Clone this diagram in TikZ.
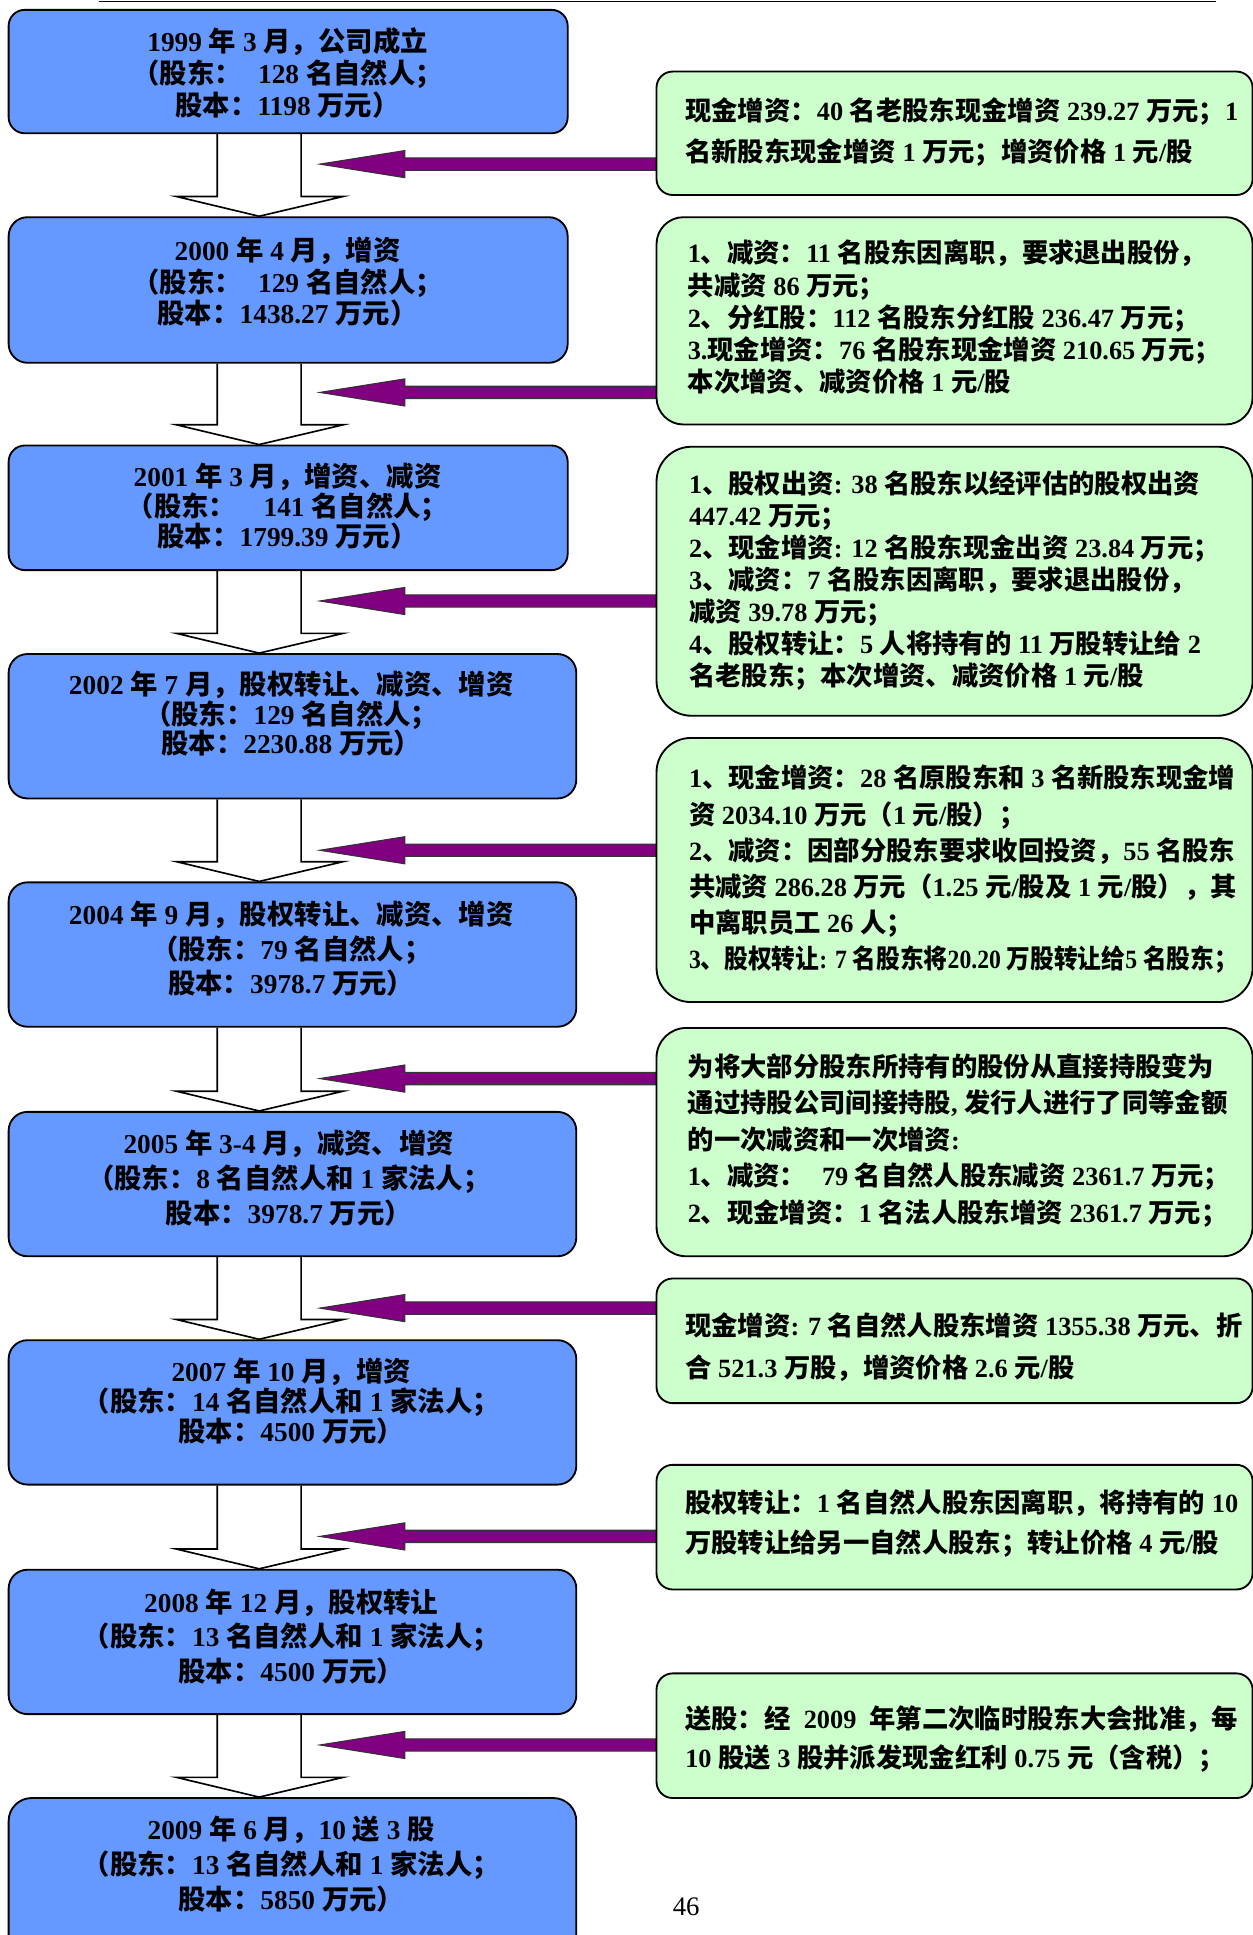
\documentclass[tikz,border=0pt]{standalone}
\usepackage{fontspec}
\usepackage{graphicx}
\setmainfont{Liberation Serif}
\newfontfamily\cjkfont{Noto Sans CJK SC}
\usetikzlibrary{calc}
\pgfdeclarelayer{bg}
\pgfsetlayers{bg,main}
\definecolor{boxblue}{RGB}{102,153,255}
\definecolor{boxgreen}{RGB}{204,255,204}
\definecolor{arrowpurple}{RGB}{128,0,128}
% automatic switch to the CJK font for CJK characters
\newcount\cjkcnt
\newXeTeXintercharclass\cjkcls
\def\setcjkrange#1#2{\cjkcnt=#1\relax\loop\XeTeXcharclass\cjkcnt=\cjkcls\relax\advance\cjkcnt by 1\relax\ifnum\cjkcnt<#2\relax\repeat}
\setcjkrange{"3000}{"3040}
\setcjkrange{"4E00}{"A000}
\setcjkrange{"FF00}{"FFF0}
\XeTeXinterchartoks 0 \cjkcls = {\begingroup\cjkfont}
\XeTeXinterchartoks 4095 \cjkcls = {\begingroup\cjkfont}
\XeTeXinterchartoks \cjkcls 0 = {\endgroup}
\XeTeXinterchartoks \cjkcls 4095 = {\endgroup}
\XeTeXinterchartokenstate=1
% rounded box node: name, style, x1, y1, x2, y2 (y downward)
\newcommand\mkbox[6]{%
  \pgfmathsetmacro\mkW{(#5-#3)*0.6}%
  \pgfmathsetmacro\mkH{(#6-#4)*0.6}%
  \pgfmathsetmacro\mkR{\mkH*0.13}%
  \pgfmathsetmacro\mkX{(#3+#5)/2}%
  \pgfmathsetmacro\mkY{-(#4+#6)/2}%
  \node[#2, minimum width=\mkW pt, minimum height=\mkH pt, rounded corners=\mkR pt] (#1) at (\mkX,\mkY) {};%
}
% hollow block arrow from upper box to lower box
\newcommand\harr[2]{%
  \draw[hollow] (176,0 |- #1.south) -- ($(176,0 |- #2.north)+(0,16)$) -- ($(143,0 |- #2.north)+(0,16)$)
    -- (210,0 |- #2.north) -- ($(278,0 |- #2.north)+(0,16)$) -- ($(244,0 |- #2.north)+(0,16)$) -- (244,0 |- #1.south);%
}
% purple arrow from a green box: node, y, tip name
\newcommand\parr[3]{%
  \coordinate (#3) at (259,-#2);%
  \draw[parrow] ($(#1.west |- #3)+(2,5)$) -- (328,-#2+5) -- (328,-#2+11) -- (#3)
    -- (328,-#2-11) -- (328,-#2-5) -- ($(#1.west |- #3)+(2,-5)$);%
}
\begin{document}
\begin{tikzpicture}[x=0.6pt,y=0.6pt,
  bbox/.style={draw=black, line width=0.9pt, fill=boxblue, inner sep=0pt},
  gbox/.style={draw=black, line width=0.9pt, fill=boxgreen, inner sep=0pt},
  btxt/.style={inner sep=0pt, align=center, font=\bfseries\fontsize{13.3}{#1}\selectfont},
  btxt/.default=15,
  gtxt/.style={inner sep=0pt, align=left, anchor=west, font=\bfseries\fontsize{12.8}{#1}\selectfont},
  gtxt/.default=15.5,
  hollow/.style={draw=black, line width=0.8pt, fill=white, line join=miter},
  parrow/.style={draw=black!80, line width=0.5pt, fill=arrowpurple},
  pagenum/.style={inner sep=0pt, font=\fontsize{13}{15}\selectfont}]
\useasboundingbox (0,0) rectangle (1015,-1568);
\coordinate (rl) at (80,-1);
\coordinate (rr) at (985,-1);
\draw[line width=0.7pt] (rl) -- (rr);

% left (blue) boxes
\mkbox{b1}{bbox}{7}{8}{460}{108}
\mkbox{b2}{bbox}{7}{176}{460}{294}
\mkbox{b3}{bbox}{7}{361}{460}{462}
\mkbox{b4}{bbox}{7}{530}{467}{647}
\mkbox{b5}{bbox}{7}{715}{467}{832}
\mkbox{b6}{bbox}{7}{901}{467}{1018}
\mkbox{b7}{bbox}{7}{1086}{467}{1203}
\mkbox{b8}{bbox}{7}{1272}{467}{1389}
\mkbox{b9}{bbox}{7}{1457}{467}{1600}

\node[btxt=15.6] (t1) at (233,-59) {1999 年 3 月，公司成立\\（股东：\hspace{0.6em}128 名自然人；\\股本：1198 万元）};
\node[btxt=15.3] (t2) at (233,-228.5) {2000 年 4 月，增资\\（股东：\hspace{0.6em}129 名自然人；\\股本：1438.27 万元）};
\node[btxt=14.6] (t3) at (233,-410) {2001 年 3 月，增资、减资\\（股东：\hspace{1em}141 名自然人；\\股本：1799.39 万元）};
\node[btxt=14.3] (t4) at (236,-578.5) {2002 年 7 月，股权转让、减资、增资\\（股东：129 名自然人；\\股本：2230.88 万元）};
\node[btxt=16.8] (t5) at (236,-769) {2004 年 9 月，股权转让、减资、增资\\（股东：79 名自然人；\\股本：3978.7 万元）};
\node[btxt=17.1] (t6) at (234,-954.5) {2005 年 3-4 月，减资、增资\\（股东：8 名自然人和 1 家法人；\\股本：3978.7 万元）};
\node[btxt=14.7] (t7) at (236,-1135.5) {2007 年 10 月，增资\\（股东：14 名自然人和 1 家法人；\\股本：4500 万元）};
\node[btxt=16.8] (t8) at (236,-1326) {2008 年 12 月，股权转让\\（股东：13 名自然人和 1 家法人；\\股本：4500 万元）};
\node[btxt=17.1] (t9) at (236,-1510.5) {2009 年 6 月，10 送 3 股\\（股东：13 名自然人和 1 家法人；\\股本：5850 万元）};

% right (green) boxes
\mkbox{g1}{gbox}{532}{58}{1015}{158}
\mkbox{g2}{gbox}{532}{176}{1015}{344}
\mkbox{g3}{gbox}{532}{362}{1015}{580}
\mkbox{g4}{gbox}{532}{598}{1015}{812}
\mkbox{g5}{gbox}{532}{833}{1015}{1018}
\mkbox{g6}{gbox}{532}{1036}{1015}{1137}
\mkbox{g7}{gbox}{532}{1187}{1015}{1288}
\mkbox{g8}{gbox}{532}{1356}{1015}{1457}

\node[gtxt=20.4] (n1) at (555,-107) {现金增资：40 名老股东现金增资 239.27 万元；1\\名新股东现金增资 1 万元；增资价格 1 元/股};
\node[gtxt=15.6] (n2) at (557,-257) {1、减资：11 名股东因离职，要求退出股份，\\共减资 86 万元；\\2、分红股：112 名股东分红股 236.47 万元；\\3.现金增资：76 名股东现金增资 210.65 万元；\\本次增资、减资价格 1 元/股};
\node[gtxt=15.5] (n3) at (558,-470.5) {1、股权出资: 38 名股东以经评估的股权出资\\447.42 万元；\\2、现金增资: 12 名股东现金出资 23.84 万元；\\3、减资：7 名股东因离职，要求退出股份，\\减资 39.78 万元；\\4、股权转让：5 人将持有的 11 万股转让给 2\\名老股东；本次增资、减资价格 1 元/股};
\node[gtxt=17.6] (n4) at (558,-704.5) {1、现金增资：28 名原股东和 3 名新股东现金增\\资 2034.10 万元（1 元/股）；\\2、减资：因部分股东要求收回投资，55 名股东\\共减资 286.28 万元（1.25 元/股及 1 元/股），其\\中离职员工 26 人；\\\scalebox{0.9}[1]{3、股权转让: 7 名股东将20.20 万股转让给5 名股东；}};
\node[gtxt=17.7] (n5) at (557,-924) {为将大部分股东所持有的股份从直接持股变为\\通过持股公司间接持股, 发行人进行了同等金额\\的一次减资和一次增资:\\1、减资：\hspace{0.6em}79 名自然人股东减资 2361.7 万元；\\2、现金增资：1 名法人股东增资 2361.7 万元；};
\node[gtxt=20.4] (n6) at (555,-1092) {现金增资: 7 名自然人股东增资 1355.38 万元、折\\合 521.3 万股，增资价格 2.6 元/股};
\node[gtxt=19.8] (n7) at (555,-1234.5) {股权转让：1 名自然人股东因离职，将持有的 10\\万股转让给另一自然人股东；转让价格 4 元/股};
\node[gtxt=19.2] (n8) at (555,-1409) {送股：经\hspace{0.5em}2009\hspace{0.5em}年第二次临时股东大会批准，每\\10 股送 3 股并派发现金红利 0.75 元（含税）；};

\node[pagenum] (pg) at (556,-1545) {46};

\begin{pgfonlayer}{bg}
\harr{b1}{b2}
\harr{b2}{b3}
\harr{b3}{b4}
\harr{b4}{b5}
\harr{b5}{b6}
\harr{b6}{b7}
\harr{b7}{b8}
\harr{b8}{b9}
\parr{g1}{133}{p1}
\parr{g2}{318}{p2}
\parr{g3}{487}{p3}
\parr{g4}{689}{p4}
\parr{g5}{874}{p5}
\parr{g6}{1060}{p6}
\parr{g7}{1245}{p7}
\parr{g8}{1414}{p8}
\end{pgfonlayer}
\end{tikzpicture}
\end{document}
